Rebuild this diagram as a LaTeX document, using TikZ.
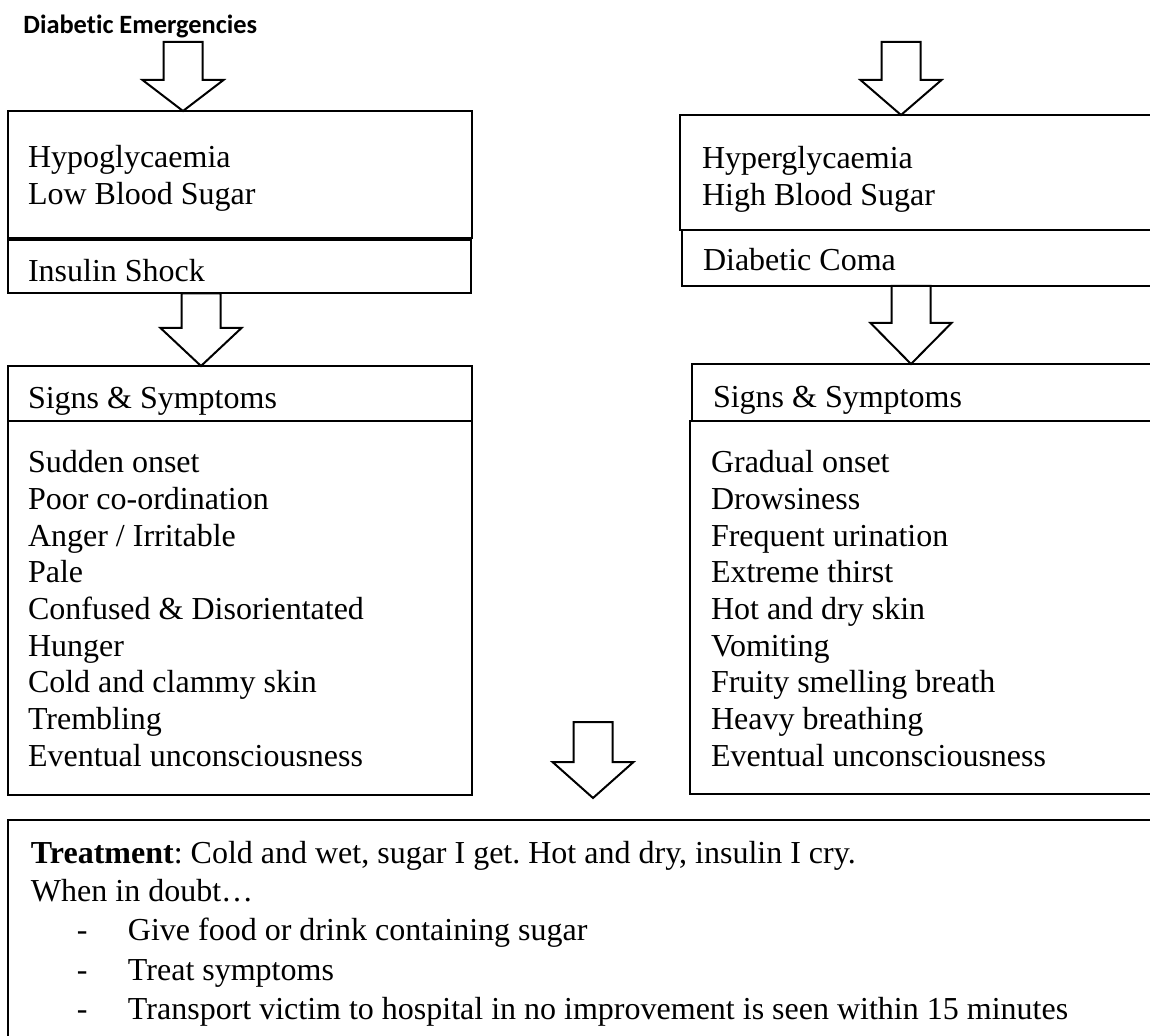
\documentclass[tikz,border=0pt]{standalone}
\usepackage{fontspec}
\setmainfont{Liberation Serif}
\newfontfamily\headfont[Ligatures=NoCommon]{Carlito}
\usetikzlibrary{positioning, calc}
\newcommand{\bodysize}{\fontsize{16pt}{18.35pt}\selectfont}
\tikzset{
  box/.style={rectangle, draw=black, line width=1pt, fill=white,
    inner sep=0pt, outer sep=0pt},
  boxtext/.style={anchor=north west, inner sep=0pt, outer sep=0pt,
    align=left, font=\bodysize},
  hollow/.style={draw=black, line width=1pt, fill=white, line join=miter},
}
% block arrow pointing down: [head length]{top}{tip}
\newcommand{\hollowarrow}[3][18pt]{%
  \draw[hollow] let \p1=#2, \p2=#3 in
    (\x2-9.75pt,\y1) -- (\x2-9.75pt,\y2+#1) -- (\x2-20.25pt,\y2+#1)
    -- (\x2,\y2) -- (\x2+20.25pt,\y2+#1) -- (\x2+9.75pt,\y2+#1)
    -- (\x2+9.75pt,\y1) -- cycle;}
\begin{document}
\frenchspacing
\begin{tikzpicture}[x=0.5pt, y=-0.5pt]
  \useasboundingbox (0,0) rectangle (1150,1036);
  \clip (0,0) rectangle (1150,1036);

  \node[anchor=base west, inner xsep=0pt, inner ysep=1.5pt,
    font=\headfont\bfseries\fontsize{13.2pt}{16pt}\selectfont] (title) at (23,34) {Diabetic Emergencies};
  \coordinate (rtop) at (901,42);
  \coordinate (mtop) at (593,722);

  % low blood sugar side
  \node[box, minimum width=232pt, minimum height=63.5pt, anchor=north west] (hypo) at (8,111) {};
  \node[box, minimum width=231.5pt, minimum height=26.75pt, below=1pt of hypo.south west, anchor=north west] (shock) {};
  \node[box, minimum width=232pt, minimum height=27.5pt, anchor=north west] (lsigns) at (8,366) {};
  \node[box, minimum width=232pt, minimum height=187pt, below=0pt of lsigns.south west, anchor=north west] (llist) {};

  % high blood sugar side
  \node[box, minimum width=245pt, minimum height=57.5pt, anchor=north west] (hyper) at (680,115) {};
  \node[box, minimum width=245pt, minimum height=28pt, below=0pt of hyper.south west, anchor=north west, xshift=1pt] (coma) {};
  \node[box, minimum width=240pt, minimum height=28.5pt, anchor=north west] (rsigns) at (692,364) {};
  \node[box, minimum width=240pt, minimum height=186.5pt, below=0pt of rsigns.south west, anchor=north west, xshift=-1pt] (rlist) {};

  \node[box, minimum width=600pt, minimum height=130pt, anchor=north west] (treat) at (8,820) {};

  % texts
  \node[boxtext] (hypotxt) at ($(hypo.north west)+(20,31)$) {\strut Hypoglycaemia\\Low Blood Sugar};
  \node[boxtext] (shocktxt) at ($(shock.north west)+(20,15.5)$) {\strut Insulin Shock};
  \node[boxtext] (lsignstxt) at ($(lsigns.north west)+(20,16.8)$) {\strut Signs \& Symptoms};
  \node[boxtext] (llisttxt) at ($(llist.north west)+(20,26)$) {\strut Sudden onset\\Poor co-ordination\\Anger / Irritable\\Pale\\Confused \& Disorientated\\Hunger\\Cold and clammy skin\\Trembling\\Eventual unconsciousness};
  \node[boxtext] (hypertxt) at ($(hyper.north west)+(22,28)$) {\strut Hyperglycaemia\\High Blood Sugar};
  \node[boxtext] (comatxt) at ($(coma.north west)+(21,15)$) {\strut Diabetic Coma};
  \node[boxtext] (rsignstxt) at ($(rsigns.north west)+(21,17.8)$) {\strut Signs \& Symptoms};
  \node[boxtext] (rlisttxt) at ($(rlist.north west)+(21,26)$) {\strut Gradual onset\\Drowsiness\\Frequent urination\\Extreme thirst\\Hot and dry skin\\Vomiting\\Fruity smelling breath\\Heavy breathing\\Eventual unconsciousness};
  \node[boxtext, font=\fontsize{16pt}{18.5pt}\selectfont] (treattxt) at ($(treat.north west)+(23,17.6)$)
    {\strut\textbf{Treatment}: Cold and wet, sugar I get. Hot and dry, insulin I cry.\\[0.5pt]
     When in doubt…\\[1pt]
     \hspace*{23pt}\makebox[25.5pt][l]{-}Give food or drink containing sugar\\[1.5pt]
     \hspace*{23pt}\makebox[25.5pt][l]{-}Treat symptoms\\[1pt]
     \hspace*{23pt}\makebox[25.5pt][l]{-}Transport victim to hospital in no improvement is seen within 15 minutes};

  % block arrows
  \hollowarrow[15.5pt]{(title.south)}{($(hypo.north west)+(175,0)$)}
  \hollowarrow[19pt]{(shock.south)}{($(lsigns.north west)+(193,0)$)}
  \hollowarrow[17.5pt]{(rtop)}{($(hyper.north west)+(221,0)$)}
  \hollowarrow[20.5pt]{(coma.south)}{($(rsigns.north west)+(219,0)$)}
  \hollowarrow[18pt]{(mtop)}{($(treat.north west)+(585,-22)$)}
\end{tikzpicture}
\end{document}
